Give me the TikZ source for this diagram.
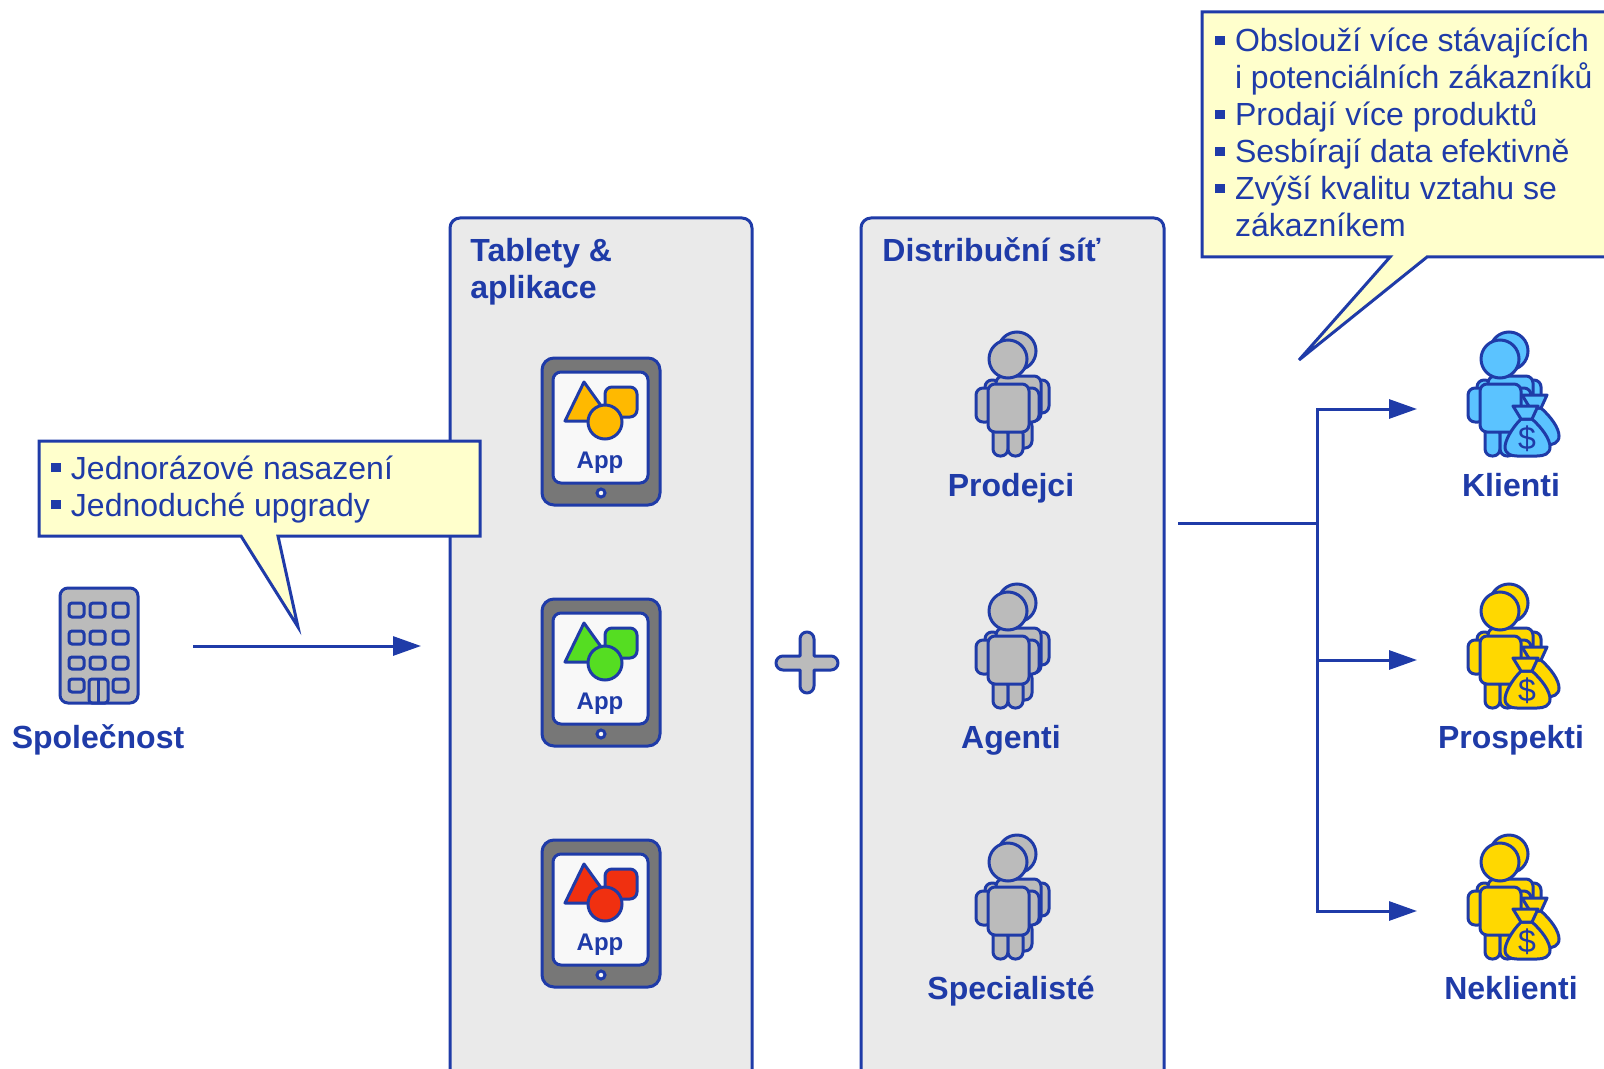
\documentclass[tikz,border=0pt]{standalone}
\usepackage{fontspec}
\setmainfont{Liberation Sans}
\usetikzlibrary{arrows.meta}
\usetikzlibrary{calc}

\definecolor{lineblue}{HTML}{1F3BA8}
\definecolor{panelgray}{HTML}{EAEAEA}
\definecolor{noteyellow}{HTML}{FFFFCC}
\definecolor{icongray}{HTML}{BBBBBB}
\definecolor{tabletgray}{HTML}{777777}
\definecolor{screenwhite}{HTML}{F8F8F8}
\definecolor{clientblue}{HTML}{5BC3FF}
\definecolor{clientyellow}{HTML}{FFD800}
\definecolor{appamber}{HTML}{FFB900}
\definecolor{appgreen}{HTML}{55DD22}
\definecolor{appred}{HTML}{F03010}

\tikzset{
    panel/.style={fill=panelgray, draw=lineblue, line width=1.5pt, rounded corners=5pt},
    note/.style={fill=noteyellow, draw=lineblue, line width=1.5pt, line join=miter},
    link/.style={draw=lineblue, line width=1.5pt},
    linkarrow/.style={link, -{Triangle[length=14pt, width=9.5pt]}},
    icon/.style={fill=#1, draw=lineblue, line width=1.5pt, rounded corners=3.5pt, line join=round},
    round/.style={fill=#1, draw=lineblue, line width=1.5pt},
    title/.style={text=lineblue, font=\fontsize{16}{18}\selectfont\bfseries, inner sep=0pt},
    caption/.style={title, anchor=base},
    noteline/.style={text=lineblue, font=\fontsize{16}{18}\selectfont, inner sep=0pt, anchor=base west},
}

\newcommand{\sqbullet}{\makebox[9.8pt][l]{\rule[3.4pt]{4.6pt}{4.6pt}}}

% head centre, fill
\newcommand{\personicon}[3]{
    \begin{scope}[shift={(#1,#2)}]
        \filldraw[icon=#3] (0,60) rectangle (24,89);
        \filldraw[icon=#3] (27,21) rectangle (41,54);
        \filldraw[icon=#3] (-23,21) rectangle (-8,54);
        \filldraw[icon=#3] (-12,17) rectangle (33,62);
        \filldraw[round=#3] (9,-8) circle[radius=19];
        \filldraw[icon=#3] (-32,29) rectangle (-15,63);
        \filldraw[icon=#3] (15,29) rectangle (31,63);
        \filldraw[icon=#3] (-15,68) rectangle (0,97);
        \filldraw[icon=#3] (0,68) rectangle (15,97);
        \filldraw[icon=#3] (-20,25) rectangle (21,73);
        \filldraw[round=#3] (0,0) circle[radius=19];
    \end{scope}
}

\newcommand{\bagicon}[4]{
    \begin{scope}[shift={(#1,#2)}]
        \foreach \bagx/\bagy in {9/-11, 0/0} {
            \begin{scope}[shift={(\bagx,\bagy)}]
                \filldraw[round=#3, line join=round] (21,60) .. controls (11,70) and (5,82) .. (5,88) .. controls (5,95) and (11,97) .. (17,97) -- (37,97) .. controls (44,97) and (50,95) .. (50,88) .. controls (50,80) and (42,69) .. (32,60) -- cycle;
                \filldraw[round=#3, line join=round] (13,47) -- (38,47) -- (32,60) -- (21,60) -- cycle;
            \end{scope}
        }
        \node[text=lineblue, font=\fontsize{16}{16}\selectfont, inner sep=0pt] (#4) at (27,80) {\$};
    \end{scope}
}

% top left corner, colour, name
\newcommand{\tableticon}[4]{
    \begin{scope}[shift={(#1,#2)}]
        \filldraw[fill=tabletgray, draw=lineblue, line width=1.5pt, rounded corners=6pt] (0,0) rectangle (118,147);
        \filldraw[fill=screenwhite, draw=lineblue, line width=1.5pt, rounded corners=4pt] (11,14) rectangle (106,125);
        \filldraw[round=screenwhite] (59,135) circle[radius=4];
        \filldraw[icon=#3] (63,29) rectangle (95,59);
        \filldraw[round=#3, line join=round] (42,24) -- (23,63) -- (70,63) -- cycle;
        \filldraw[round=#3] (63,64) circle[radius=17];
        \node[text=lineblue, font=\fontsize{12}{14}\selectfont\bfseries, inner sep=0pt, anchor=base] (#4) at (58,110) {App};
    \end{scope}
}

\begin{document}
\begin{tikzpicture}[x=0.5pt, y=-0.5pt]
    \useasboundingbox (0,0) rectangle (1604,1069);
    \clip (0,0) rectangle (1604,1069);

    % panels
    \filldraw[panel] (450,218) rectangle (752,1100);
    \filldraw[panel] (861,218) rectangle (1164,1100);

    \node[title, anchor=base west] (tablets) at (470,262) {Tablety \&};
    \node[title, anchor=base west] (apps) at (470,299) {aplikace};
    \node[title, anchor=base west] (network) at (882,262) {Distribuční síť};

    % company
    \filldraw[icon=icongray, rounded corners=4pt] (60,588) rectangle (138,703);
    \foreach \winx in {69,90,113} {
        \foreach \winy/\winh in {603/14, 631/13, 657/12} {
            \draw[lineblue, line width=1.5pt, rounded corners=1.5pt] (\winx,\winy) rectangle ++(15,\winh);
        }
    }
    \draw[lineblue, line width=1.5pt, rounded corners=1.5pt] (69,679) rectangle ++(15,13);
    \draw[lineblue, line width=1.5pt, rounded corners=1.5pt] (113,679) rectangle ++(15,13);
    \draw[lineblue, line width=1.5pt, rounded corners=1.5pt] (89,679) rectangle (108,703);
    \draw[lineblue, line width=1.5pt] (98,679) -- (98,703);
    \node[caption] (company) at (98,748) {Společnost};

    % tablets
    \tableticon{542}{358}{appamber}{appone}
    \tableticon{542}{599}{appgreen}{apptwo}
    \tableticon{542}{840}{appred}{appthree}

    % plus
    \filldraw[round=icongray, line join=round] (800,656) [rounded corners=3.5pt] -- (800,632) -- (814,632) [sharp corners] -- (814,656) [rounded corners=3.5pt] -- (838,656) -- (838,670) [sharp corners] -- (814,670) [rounded corners=3.5pt] -- (814,693) -- (800,693) [sharp corners] -- (800,670) [rounded corners=3.5pt] -- (776,670) -- (776,656) [sharp corners] -- cycle;

    % sales people
    \personicon{1008}{359}{icongray}
    \personicon{1008}{611}{icongray}
    \personicon{1008}{862}{icongray}
    \node[caption] (sellers) at (1011,496) {Prodejci};
    \node[caption] (agents) at (1011,748) {Agenti};
    \node[caption] (specialists) at (1011,999) {Specialisté};

    % clients
    \personicon{1500}{359}{clientblue}
    \bagicon{1500}{359}{clientblue}{dollarone}
    \personicon{1500}{611}{clientyellow}
    \bagicon{1500}{611}{clientyellow}{dollartwo}
    \personicon{1500}{862}{clientyellow}
    \bagicon{1500}{862}{clientyellow}{dollarthree}
    \node[caption] (clients) at (1511,496) {Klienti};
    \node[caption] (prospects) at (1511,748) {Prospekti};
    \node[caption] (nonclients) at (1511,999) {Neklienti};

    % connectors
    \coordinate (companyout) at (193,646);
    \coordinate (panelin) at (421,646);
    \coordinate (networkout) at (1178,523);
    \coordinate (branch) at (1317,523);
    \coordinate (clientsin) at (1417,409);
    \coordinate (prospectsin) at (1417,660);
    \coordinate (nonclientsin) at (1417,911);

    \draw[linkarrow] (companyout) -- (panelin);
    \draw[link] (networkout) -- (branch);
    \draw[linkarrow] (branch) |- (clientsin);
    \draw[linkarrow] (branch) |- (prospectsin);
    \draw[linkarrow] (branch) |- (nonclientsin);

    % notes
    \filldraw[note] (39,441) -- (480,441) -- (480,536) -- (278,536) -- (298,627) -- (241,536) -- (39,536) -- cycle;
    \node[noteline] (oneoff) at (51,479) {\sqbullet Jednorázové nasazení};
    \node[noteline] (upgrades) at (51,516) {\sqbullet Jednoduché upgrady};

    \filldraw[note] (1202,12) -- (1620,12) -- (1620,257) -- (1427,257) -- (1299,360) -- (1390,257) -- (1202,257) -- cycle;
    \node[noteline] (serve) at (1215,52) {\sqbullet Obslouží více stávajících};
    \node[noteline] (servetwo) at (1234.6,89) {i potenciálních zákazníků};
    \node[noteline] (sell) at (1215,126) {\sqbullet Prodají více produktů};
    \node[noteline] (collect) at (1215,163) {\sqbullet Sesbírají data efektivně};
    \node[noteline] (quality) at (1215,200) {\sqbullet Zvýší kvalitu vztahu se};
    \node[noteline] (qualitytwo) at (1234.6,237) {zákazníkem};
\end{tikzpicture}
\end{document}
